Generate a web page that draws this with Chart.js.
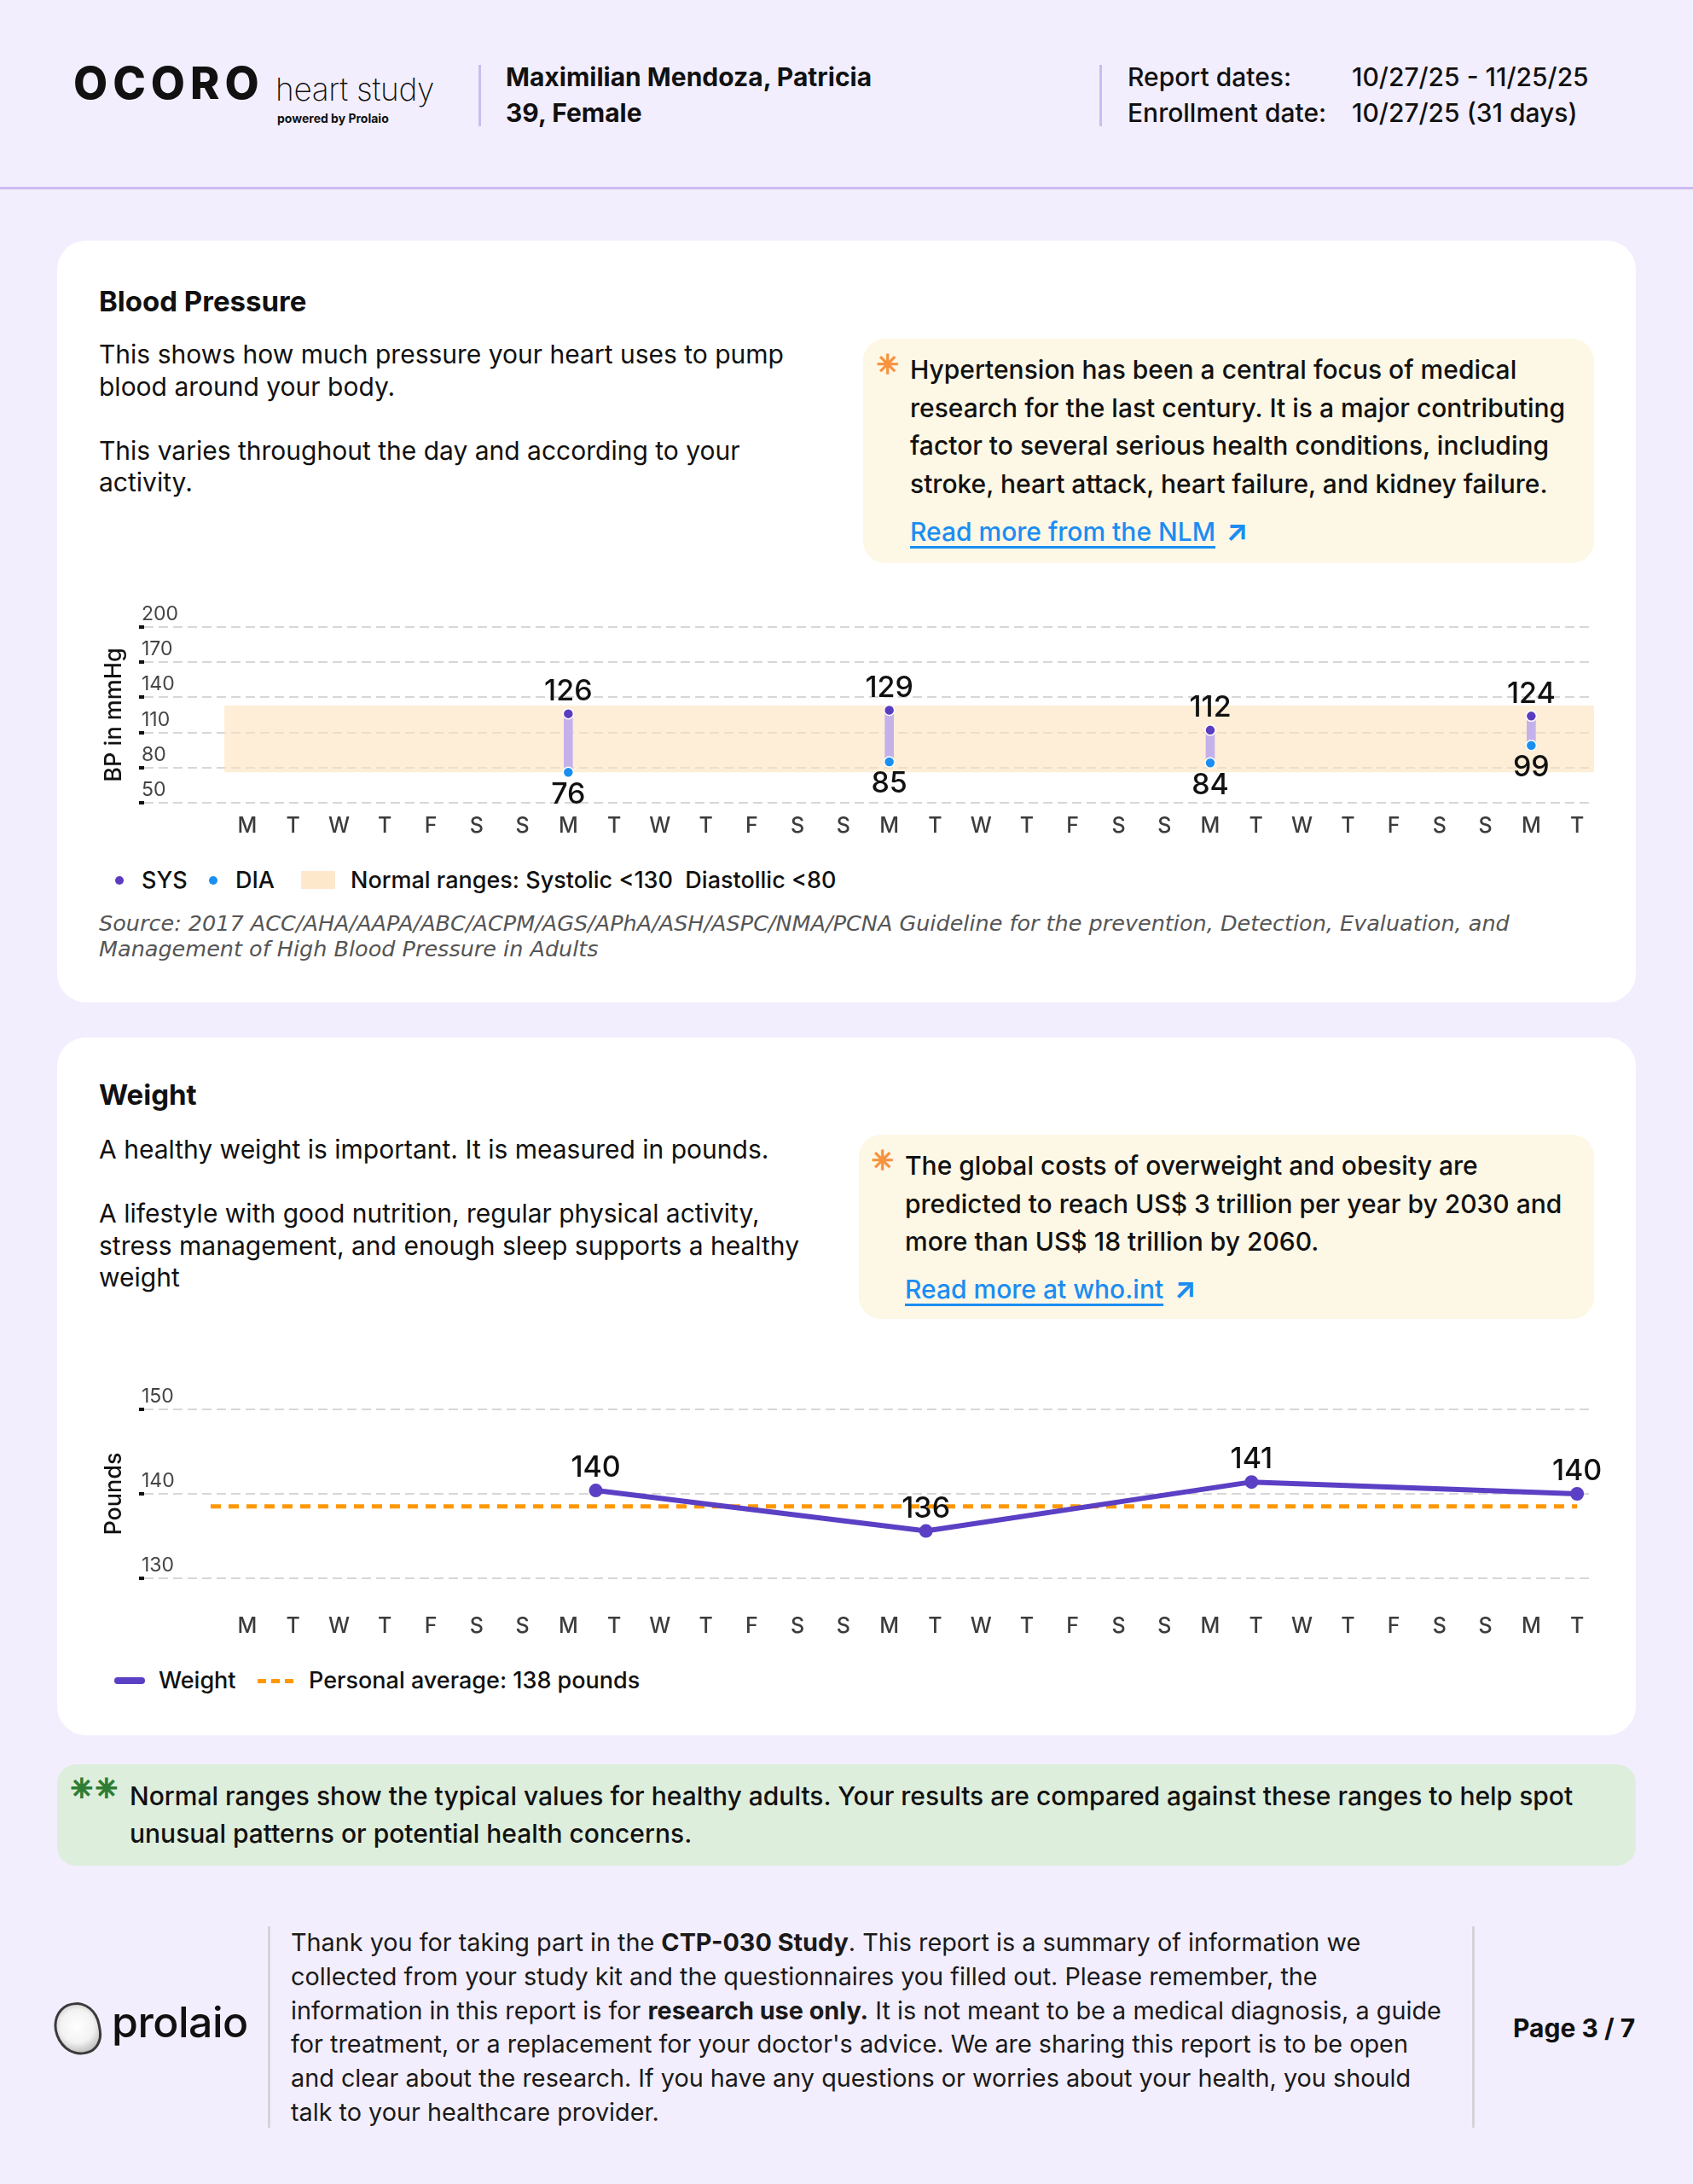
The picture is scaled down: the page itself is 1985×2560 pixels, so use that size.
<!DOCTYPE html>
<html>
<head>
<meta charset="utf-8">
<script src="https://cdn.jsdelivr.net/npm/chart.js@4.4.1/dist/chart.umd.min.js"></script>
<style>
  html, body { margin: 0; padding: 0; }
  body { width: 1985px; height: 2560px; background: #f3eefd; font-family: Inter, "Noto Sans", sans-serif; color: #111; }
  #page { position: relative; width: 1985px; height: 2560px; overflow: hidden; }
  .abs { position: absolute; white-space: nowrap; }
  .card { position: absolute; left: 67px; width: 1851px; background: #fff; border-radius: 34px; }
  .note { position: absolute; background: #fdf7e5; border-radius: 26px; }
  .title { font-size: 33px; font-weight: 700; line-height: 40px; }
  .body { font-size: 30px; line-height: 37.5px; font-weight: 400; }
  .notetext { font-size: 30px; line-height: 44.5px; font-weight: 500; }
  .star { color: #f7923d; font-family: "DejaVu Sans", sans-serif; font-size: 31px; line-height: 32px; -webkit-text-stroke: 1.6px #f7923d; }
  .link { color: #1b8df2; font-size: 30px; font-weight: 500; line-height: 44px; }
  .link u { text-decoration-thickness: 3px; text-underline-offset: 6px; }
  .link .arrow { display: inline-block; margin-left: 12px; font-size: 34px; font-weight: 700; }
  .legend { font-size: 27px; font-weight: 500; line-height: 30px; white-space: pre; }
  .dot { position: absolute; width: 10px; height: 10px; border-radius: 50%; }
  canvas { position: absolute; }
</style>
</head>
<body>
<div id="page">
  <!-- header -->
  <div class="abs" style="left:86px; top:70px; font-size:52px; font-weight:800; letter-spacing:6px; line-height:56px;">OCORO</div>
  <div class="abs" style="left:323px; top:84px; font-size:37px; font-weight:200; line-height:42px; letter-spacing:-0.3px;">heart study</div>
  <div class="abs" style="left:325px; top:131px; font-size:14px; font-weight:700; line-height:16px;">powered by Prolaio</div>
  <div class="abs" style="left:561px; top:76px; width:3px; height:72px; background:#cbbcf0;"></div>
  <div class="abs" style="left:593px; top:69px; font-size:30px; font-weight:700; line-height:42px;">Maximilian Mendoza, Patricia<br>39, Female</div>
  <div class="abs" style="left:1289px; top:76px; width:3px; height:72px; background:#cbbcf0;"></div>
  <div class="abs" style="left:1322px; top:69px; font-size:30px; font-weight:500; line-height:42px;">Report dates:<br>Enrollment date:</div>
  <div class="abs" style="left:1585px; top:69px; font-size:30px; font-weight:500; line-height:42px;">10/27/25 - 11/25/25<br>10/27/25 (31 days)</div>
  <div class="abs" style="left:0; top:219px; width:1985px; height:3px; background:#cbbcf0;"></div>

  <!-- blood pressure card -->
  <div class="card" style="top:282px; height:893px;"></div>
  <div class="abs title" style="left:116px; top:333px;">Blood Pressure</div>
  <div class="abs body" style="left:116px; top:397px;">This shows how much pressure your heart uses to pump<br>blood around your body.<br><br>This varies throughout the day and according to your<br>activity.</div>
  <div class="note" style="left:1012px; top:397px; width:857px; height:263px;"></div>
  <div class="abs star" style="left:1028px; top:411px;">✳</div>
  <div class="abs notetext" style="left:1067px; top:411px;">Hypertension has been a central focus of medical<br>research for the last century. It is a major contributing<br>factor to several serious health conditions, including<br>stroke, heart attack, heart failure, and kidney failure.</div>
  <div class="abs link" style="left:1067px; top:600px;"><u>Read more from the NLM</u><span class="arrow">↗</span></div>

  <canvas id="bpChart" width="1779" height="290" style="left:100px; top:700px;"></canvas>

  <div class="dot" style="left:135px; top:1027px; background:#5a3cc0;"></div>
  <div class="abs legend" style="left:166px; top:1017px;">SYS</div>
  <div class="dot" style="left:245px; top:1027px; background:#1a8ff0;"></div>
  <div class="abs legend" style="left:276px; top:1017px;">DIA</div>
  <div class="abs" style="left:353px; top:1021px; width:40px; height:21px; background:#fde8cc;"></div>
  <div class="abs legend" id="bpLegend" style="left:411px; top:1017px;"></div>
  <div class="abs" style="left:116px; top:1067px; font-family:'DejaVu Sans', sans-serif; font-style:italic; font-size:25.5px; line-height:30px; color:#555;">Source: 2017 ACC/AHA/AAPA/ABC/ACPM/AGS/APhA/ASH/ASPC/NMA/PCNA Guideline for the prevention, Detection, Evaluation, and<br>Management of High Blood Pressure in Adults</div>

  <!-- weight card -->
  <div class="card" style="top:1216px; height:818px;"></div>
  <div class="abs title" style="left:116px; top:1263px;">Weight</div>
  <div class="abs body" style="left:116px; top:1329px;">A healthy weight is important. It is measured in pounds.<br><br>A lifestyle with good nutrition, regular physical activity,<br>stress management, and enough sleep supports a healthy<br>weight</div>
  <div class="note" style="left:1007px; top:1330px; width:862px; height:216px;"></div>
  <div class="abs star" style="left:1022px; top:1344px;">✳</div>
  <div class="abs notetext" style="left:1061px; top:1344px;">The global costs of overweight and obesity are<br>predicted to reach US$ 3 trillion per year by 2030 and<br>more than US$ 18 trillion by 2060.</div>
  <div class="abs link" style="left:1061px; top:1488px;"><u>Read more at who.int</u><span class="arrow">↗</span></div>

  <canvas id="weightChart" width="1779" height="315" style="left:100px; top:1610px;"></canvas>

  <div class="abs" style="left:134px; top:1966px; width:36px; height:8px; border-radius:4px; background:#5b3fc4;"></div>
  <div class="abs legend" style="left:186px; top:1955px;">Weight</div>
  <div class="abs" style="left:302px; top:1968px; width:42px; height:5px; background:repeating-linear-gradient(90deg, #ff9800 0 10px, transparent 10px 16px);"></div>
  <div class="abs legend" id="weightLegend" style="left:362px; top:1955px;"></div>

  <!-- normal ranges note -->
  <div class="abs" style="left:67px; top:2068px; width:1851px; height:119px; background:#deeedd; border-radius:22px;"></div>
  <div class="abs" style="left:83px; top:2080px; color:#2e7d32; font-family:'DejaVu Sans', sans-serif; font-size:31px; line-height:32px; letter-spacing:3px; -webkit-text-stroke:2px #2e7d32;">✳✳</div>
  <div class="abs" style="left:152px; top:2083px; font-size:30px; font-weight:500; line-height:44px;">Normal ranges show the typical values for healthy adults. Your results are compared against these ranges to help spot<br>unusual patterns or potential health concerns.</div>

  <!-- footer -->
  <div class="abs" style="left:64px; top:2347px; width:48px; height:56px; border-radius:48% 52% 42% 58%; border:3px solid #3a3a3a; background:radial-gradient(circle at 50% 45%, #fff 0%, #f2f2f2 50%, #b8b8b8 85%, #777 100%); transform:rotate(-10deg);"></div>
  <div class="abs" style="left:131px; top:2342px; font-size:50px; font-weight:500; line-height:56px; letter-spacing:-0.5px;">prolaio</div>
  <div class="abs" style="left:314px; top:2258px; width:3px; height:236px; background:#d5d3d8;"></div>
  <div class="abs" style="left:341px; top:2257px; font-size:28.8px; font-weight:400; line-height:39.8px; color:#1a1a1a;">Thank you for taking part in the <b>CTP-030 Study</b>. This report is a summary of information we<br>collected from your study kit and the questionnaires you filled out. Please remember, the<br>information in this report is for <b>research use only.</b> It is not meant to be a medical diagnosis, a guide<br>for treatment, or a replacement for your doctor's advice. We are sharing this report is to be open<br>and clear about the research. If you have any questions or worries about your health, you should<br>talk to your healthcare provider.</div>
  <div class="abs" style="left:1726px; top:2258px; width:3px; height:236px; background:#d5d3d8;"></div>
  <div class="abs" style="left:1774px; top:2357px; font-size:30px; font-weight:700; line-height:40px;">Page 3 / 7</div>
</div>

<script>
// x axis: one letter per day, 10/27/25 (Mon) to 11/25/25 (Tue)
const dayLabels = ['M', 'T', 'W', 'T', 'F', 'S', 'S', 'M', 'T', 'W', 'T', 'F', 'S', 'S',
    'M', 'T', 'W', 'T', 'F', 'S', 'S', 'M', 'T', 'W', 'T', 'F', 'S', 'S', 'M', 'T'];

// blood pressure readings (day index into dayLabels)
const bpDays = [7, 14, 21, 28];
const systolic = [126, 129, 112, 124];
const diastolic = [76, 85, 84, 99];
const bpTicks = [50, 80, 110, 140, 170, 200];
const normalLow = 76;
const normalHigh = 133;
const normalSystolic = 130;
const normalDiastolic = 80;

// weight readings
const weightDays = [7.6, 14.8, 21.9, 29];
const weightValues = [140.4, 135.6, 141.4, 140.0];
const weightTicks = [130, 140, 150];
const avgWeight = 138.5;

document.getElementById('bpLegend').textContent =
    `Normal ranges: Systolic <${normalSystolic}  Diastollic <${normalDiastolic}`;
document.getElementById('weightLegend').textContent =
    `Personal average: ${Math.floor(avgWeight)} pounds`;

Chart.defaults.font.family = 'Inter, "Noto Sans", sans-serif';
Chart.defaults.animation = false;

// draws the reading value above or below each point
const valueLabels = {
    id: 'valueLabels',
    afterDatasetsDraw(chart) {
        const ctx = chart.ctx;
        ctx.save();
        ctx.font = '500 34px Inter, sans-serif';
        ctx.fillStyle = '#111';
        ctx.textAlign = 'center';
        ctx.textBaseline = 'middle';
        chart.data.datasets.forEach((ds, i) => {
            if (!ds.labelSide) return;
            const meta = chart.getDatasetMeta(i);
            meta.data.forEach((pt, j) => {
                const dy = ds.labelSide === 'above' ? -26 : 26;
                ctx.fillText(Math.round(ds.data[j].y), pt.x, pt.y + dy);
            });
        });
        ctx.restore();
    }
};

function dayAxis(max, pad, height) {
    return {
        type: 'linear',
        min: -2.25,
        max: max,
        offset: false,
        afterBuildTicks: axis => { axis.ticks = dayLabels.map((d, i) => ({ value: i })); },
        afterFit: axis => {
            axis.height = height;
            axis.paddingLeft = 0;
            axis.paddingRight = 0;
        },
        ticks: {
            autoSkip: false,
            maxRotation: 0,
            padding: pad,
            color: '#3c3c3c',
            font: { size: 25, weight: 500 },
            callback: (v, i) => dayLabels[i]
        },
        grid: { display: false },
        border: { display: false }
    };
}

function valueAxis(min, max, ticks, title) {
    return {
        min: min,
        max: max,
        afterBuildTicks: axis => { axis.ticks = ticks.map(v => ({ value: v })); },
        afterFit: axis => { axis.width = 69; },
        ticks: { mirror: true, padding: -3, labelOffset: -15, color: '#444', font: { size: 23 } },
        grid: { color: '#d7d7d7', lineWidth: 2, tickLength: 6, tickWidth: 4, tickColor: '#111', tickBorderDash: [] },
        border: { display: false, dash: [11, 6] },
        title: { display: true, text: title, color: '#111', font: { size: 27, weight: 500 }, padding: { top: 18, bottom: 0 } }
    };
}

const xMax = 29.37;

new Chart(document.getElementById('bpChart'), {
    type: 'line',
    data: {
        datasets: [
            {
                label: 'SYS',
                data: bpDays.map((d, i) => ({ x: d, y: systolic[i] })),
                showLine: false,
                pointRadius: 6,
                pointBackgroundColor: '#5a3cc0',
                pointBorderColor: '#fff',
                pointBorderWidth: 1.5,
                labelSide: 'above',
                order: 1
            },
            {
                label: 'DIA',
                data: bpDays.map((d, i) => ({ x: d, y: diastolic[i] })),
                showLine: false,
                pointRadius: 6,
                pointBackgroundColor: '#1a8ff0',
                pointBorderColor: '#fff',
                pointBorderWidth: 1.5,
                labelSide: 'below',
                order: 1
            },
            {
                type: 'bar',
                label: 'range',
                data: bpDays.map((d, i) => ({ x: d, y: [diastolic[i], systolic[i]] })),
                backgroundColor: '#c5b1ea',
                barThickness: 10,
                order: 2
            },
            {
                label: 'normal high',
                data: [{ x: -0.5, y: normalHigh }, { x: xMax, y: normalHigh }],
                borderWidth: 0,
                pointRadius: 0,
                backgroundColor: 'rgba(253, 226, 188, 0.6)',
                fill: '+1',
                order: 3
            },
            {
                label: 'normal low',
                data: [{ x: -0.5, y: normalLow }, { x: xMax, y: normalLow }],
                borderWidth: 0,
                pointRadius: 0,
                fill: false,
                order: 4
            }
        ]
    },
    options: {
        responsive: false,
        layout: { autoPadding: false, padding: { top: 35, right: 10, left: 0, bottom: 0 } },
        plugins: { legend: { display: false }, tooltip: { enabled: false } },
        scales: {
            x: dayAxis(xMax, 4, 49),
            y: valueAxis(50, 200, bpTicks, 'BP in mmHg')
        }
    },
    plugins: [valueLabels]
});

new Chart(document.getElementById('weightChart'), {
    type: 'line',
    data: {
        datasets: [
            {
                label: 'Weight',
                data: weightDays.map((d, i) => ({ x: d, y: weightValues[i] })),
                borderColor: '#5b3fc4',
                borderWidth: 6,
                pointRadius: 5,
                pointBackgroundColor: '#5b3fc4',
                pointBorderColor: '#5b3fc4',
                labelSide: 'above',
                order: 1
            },
            {
                label: 'Personal average',
                data: [{ x: -0.8, y: avgWeight }, { x: 29, y: avgWeight }],
                borderColor: '#ff9800',
                borderWidth: 5,
                borderDash: [12, 9],
                pointRadius: 0,
                order: 2
            }
        ]
    },
    options: {
        responsive: false,
        layout: { autoPadding: false, padding: { top: 42, right: 10, left: 0, bottom: 0 } },
        plugins: { legend: { display: false }, tooltip: { enabled: false } },
        scales: {
            x: dayAxis(xMax, 33, 75),
            y: valueAxis(130, 150, weightTicks, 'Pounds')
        }
    },
    plugins: [valueLabels]
});
</script>
</body>
</html>
